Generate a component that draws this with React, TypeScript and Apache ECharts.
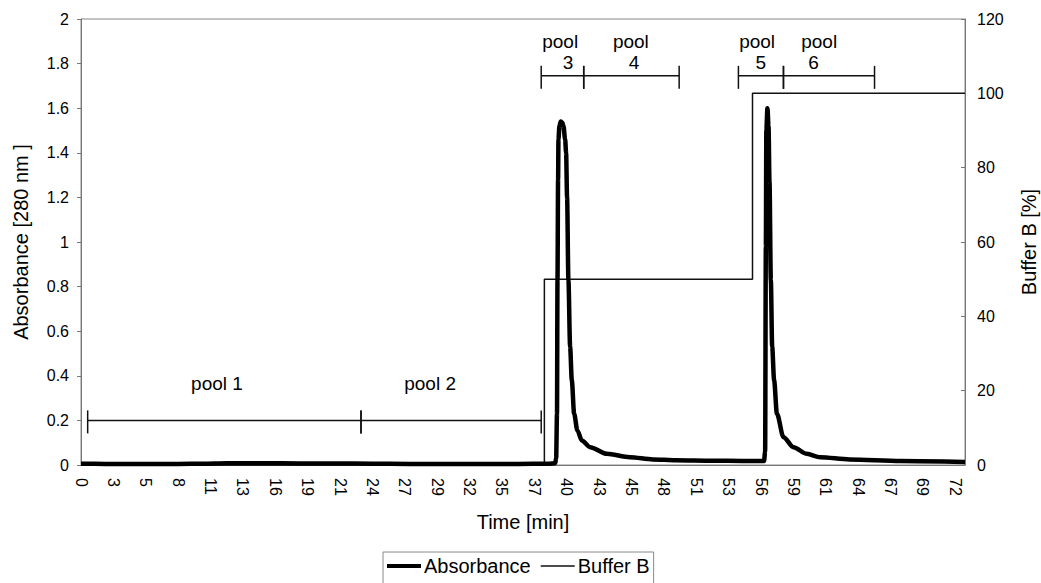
import React, { useEffect, useRef } from "react";
import * as echarts from "echarts";

// Absorbance trace [time (min), absorbance at 280 nm]
const absorbanceData: [number, number][] = [
  [0, 0.006], [2, 0.005], [5, 0.004], [8, 0.005], [10, 0.006], [12, 0.008], [15, 0.008],
  [18, 0.007], [21, 0.007], [24, 0.006], [27, 0.005], [30, 0.005], [33, 0.005], [36, 0.005],
  [38.5, 0.006], [39.05, 0.008], [39.13, 0.03], [39.2, 0.23], [39.24, 0.83], [39.29, 1.28],
  [39.32, 1.46], [39.4, 1.52], [39.51, 1.54], [39.64, 1.535], [39.73, 1.52], [39.87, 1.46],
  [39.95, 1.40], [40.03, 1.2], [40.14, 0.83], [40.28, 0.53], [40.42, 0.38], [40.61, 0.23],
  [40.88, 0.155], [41.24, 0.11], [41.93, 0.08], [43.3, 0.05], [45.2, 0.035], [47.1, 0.025],
  [49, 0.021], [52, 0.019], [54.5, 0.018], [56.25, 0.018], [56.34, 0.06], [56.4, 0.98],
  [56.44, 1.5], [56.53, 1.6], [56.62, 1.52], [56.7, 1.27], [56.81, 0.83], [56.92, 0.53],
  [57.08, 0.38], [57.31, 0.23], [57.85, 0.125], [58.67, 0.08], [59.77, 0.05], [60.87, 0.035],
  [63.3, 0.025], [67.5, 0.018], [72.8, 0.014],
];

// Buffer B gradient [time (min), %B]
const bufferBData: [number, number][] = [
  [0, 0], [38.16, 0], [38.16, 50], [55.3, 50], [55.3, 100], [72.8, 100],
];

// Fraction pools
const poolNumbers = ["1", "2", "3", "4", "5", "6"];
const poolStart = [0.55, 23.06, 37.9, 41.4, 54.14, 57.85];
const poolEnd = [23.06, 37.9, 41.4, 49.26, 57.85, 65.35];
const poolLevel = [0.2, 0.2, 1.745, 1.745, 1.745, 1.745];
const poolLabelX = [11.2, 28.75, 39.46, 45.28, 55.68, 60.79];
const poolNumberX = [11.2, 28.75, 40.1, 45.55, 55.99, 60.32];
const poolTwoLine = [false, false, true, true, true, true];

const xMin = 0;
const xMax = 72.8;
const xInterval = 8 / 3;

const FONT = "'Liberation Sans', Arial, Helvetica, sans-serif";

export default function App() {
  const ref = useRef<HTMLDivElement>(null);

  useEffect(() => {
    document.body.style.margin = "0";
    if (!ref.current) return;
    const chart = echarts.init(ref.current, undefined, { renderer: "svg" });

    const poolData = poolNumbers.map((n, i) => [
      poolStart[i], poolEnd[i], poolLevel[i], poolLabelX[i], poolNumberX[i], i,
    ]);

    const option: any = {
      animation: false,
      backgroundColor: "#fff",
      textStyle: { fontFamily: FONT, color: "#000" },
      grid: {
        left: 81, right: 76, top: 19, bottom: 118,
        containLabel: false,
        outerBoundsMode: "none",
        show: true, borderColor: "#888", borderWidth: 1, backgroundColor: "transparent",
      },
      legend: {
        data: [
          { name: "Absorbance", icon: "path://M0,0 L34,0 L34,4 L0,4 Z" },
          { name: "Buffer B", icon: "path://M0,0 L34,0 L34,1.5 L0,1.5 Z" },
        ],
        left: 383,
        top: 552,
        padding: [4, 4, 10, 4],
        borderColor: "#888",
        borderWidth: 1,
        itemWidth: 34,
        itemHeight: 14,
        itemGap: 10,
        textStyle: { fontFamily: FONT, fontSize: 20, color: "#000", padding: [0, 0, 0, -2] },
      },
      xAxis: {
        type: "value",
        min: xMin,
        max: xMax,
        interval: xInterval,
        name: "Time [min]",
        nameLocation: "middle",
        nameGap: 47,
        nameTextStyle: { fontFamily: FONT, fontSize: 20, color: "#000" },
        axisLine: { show: true, lineStyle: { color: "#777", width: 1 } },
        axisTick: { show: false },
        splitLine: { show: false },
        axisLabel: {
          rotate: -90,
          margin: 13,
          fontFamily: FONT,
          fontSize: 16,
          color: "#000",
          showMaxLabel: false,
          formatter: (v: number) => {
            const n = v / xInterval;
            if (Math.abs(n - Math.round(n)) > 0.05) return "";
            return String(Math.round(v));
          },
        },
      },
      yAxis: [
        {
          type: "value",
          min: 0,
          max: 2,
          interval: 0.2,
          name: "Absorbance [280 nm ]",
          nameLocation: "middle",
          nameRotate: 90,
          nameGap: 50,
          nameTextStyle: { fontFamily: FONT, fontSize: 20, color: "#000" },
          axisLine: { show: true, lineStyle: { color: "#777", width: 1 } },
          axisTick: { show: true, length: 4, lineStyle: { color: "#777" } },
          splitLine: { show: false },
          axisLabel: { margin: 12, fontFamily: FONT, fontSize: 16, color: "#000" },
        },
        {
          type: "value",
          min: 0,
          max: 120,
          interval: 20,
          name: "Buffer B [%]",
          nameLocation: "middle",
          nameRotate: 90,
          nameGap: 54,
          nameTextStyle: { fontFamily: FONT, fontSize: 20, color: "#000" },
          axisLine: { show: true, lineStyle: { color: "#777", width: 1 } },
          axisTick: { show: true, inside: true, length: 4, lineStyle: { color: "#777" } },
          splitLine: { show: false },
          axisLabel: { margin: 12, fontFamily: FONT, fontSize: 16, color: "#000" },
        },
      ],
      series: [
        {
          name: "Buffer B",
          type: "line",
          yAxisIndex: 1,
          data: bufferBData,
          symbol: "none",
          showSymbol: false,
          lineStyle: { color: "#111", width: 1.5 },
          itemStyle: { color: "#111" },
          z: 2,
        },
        {
          name: "Absorbance",
          type: "line",
          yAxisIndex: 0,
          data: absorbanceData,
          symbol: "none",
          showSymbol: false,
          smooth: 0.3,
          smoothMonotone: "x",
          lineStyle: { color: "#000", width: 4.5 },
          itemStyle: { color: "#000" },
          z: 3,
        },
        {
          name: "pools",
          type: "custom",
          xAxisIndex: 0,
          yAxisIndex: 0,
          data: poolData,
          silent: true,
          z: 4,
          renderItem: (params: any, api: any) => {
            const i = api.value(5);
            const s = api.coord([api.value(0), api.value(2)]);
            const e = api.coord([api.value(1), api.value(2)]);
            const lx = api.coord([api.value(3), api.value(2)])[0];
            const nx = api.coord([api.value(4), api.value(2)])[0];
            const ls = { stroke: "#111", lineWidth: 1.5 };
            const children: any[] = [
              { type: "line", shape: { x1: s[0], y1: s[1], x2: e[0], y2: e[1] }, style: ls },
              { type: "line", shape: { x1: s[0], y1: s[1] - 10, x2: s[0], y2: s[1] + 13 }, style: ls },
              { type: "line", shape: { x1: e[0], y1: e[1] - 10, x2: e[0], y2: e[1] + 13 }, style: ls },
            ];
            const ts = { fontFamily: FONT, fontSize: 19, fill: "#000", align: "center", verticalAlign: "middle" };
            if (poolTwoLine[i]) {
              children.push({ type: "text", x: lx, y: s[1] - 34, style: { ...ts, text: "pool" } });
              children.push({ type: "text", x: nx, y: s[1] - 13, style: { ...ts, text: poolNumbers[i] } });
            } else {
              children.push({ type: "text", x: lx, y: s[1] - 37, style: { ...ts, text: "pool " + poolNumbers[i] } });
            }
            return { type: "group", children };
          },
        },
      ],
    };

    chart.setOption(option);
    return () => chart.dispose();
  }, []);

  return (
    <div
      ref={ref}
      style={{ position: "fixed", left: 0, top: 0, width: 1041, height: 583, overflow: "hidden" }}
    />
  );
}
